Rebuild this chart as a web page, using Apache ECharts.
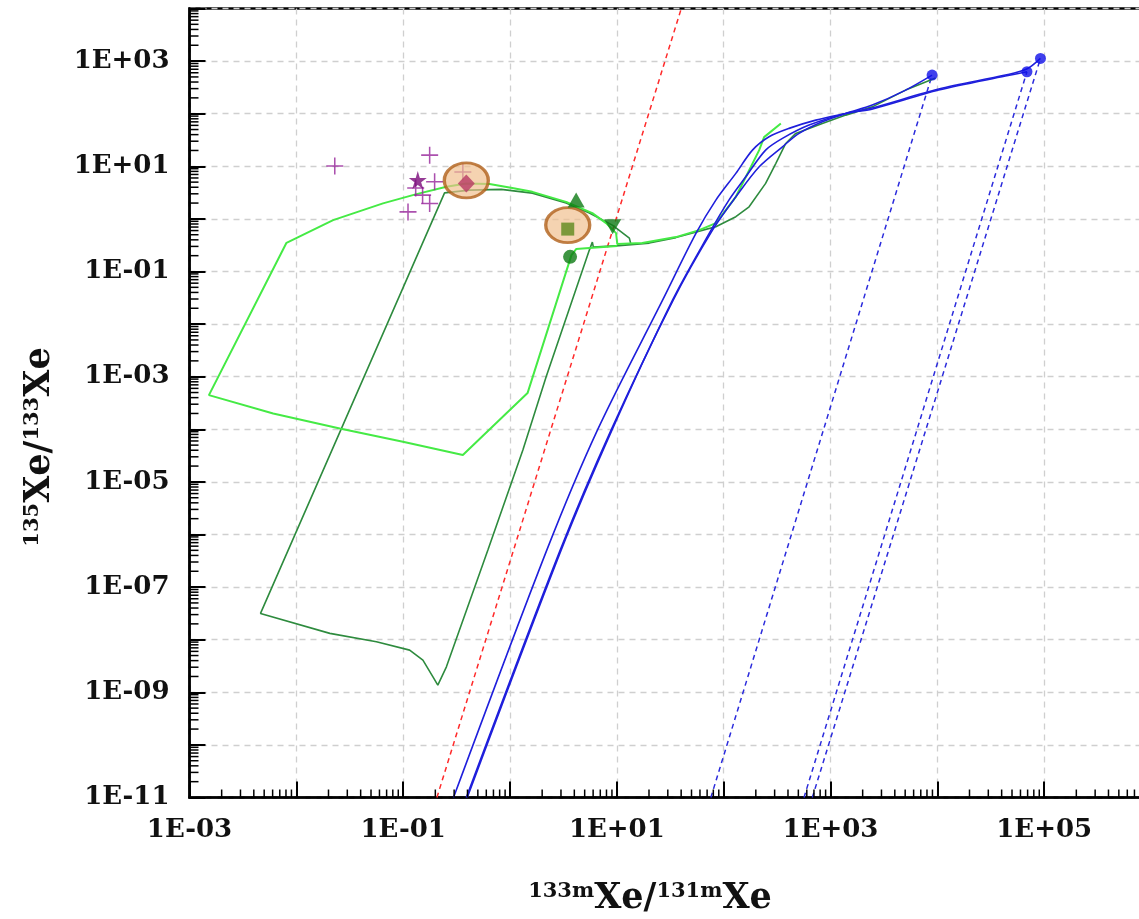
<!DOCTYPE html>
<html>
<head>
<meta charset="utf-8">
<script src="https://cdn.jsdelivr.net/npm/echarts@6/dist/echarts.min.js"></script>
<style>html,body{margin:0;padding:0;background:#fff}#c{width:1139px;height:919px}</style>
</head>
<body>
<div id="c"></div>
<script>
// ---- axis ticks ----
const xDecades = [-3, -2, -1, 0, 1, 2, 3, 4, 5];
const yDecades = [-11, -10, -9, -8, -7, -6, -5, -4, -3, -2, -1, 0, 1, 2, 3];
const minorMultipliers = [2, 3, 4, 5, 6, 7, 8, 9];

// ---- light green curve ----
const lightGreenX = [10.1, 5.53, 4.16, 3.76, 3.30, 1.46, 0.362, 0.0995, 0.0255, 6.07e-3, 1.52e-3, 8.09e-3, 0.0221, 0.0647, 0.133, 0.254, 0.390, 0.643, 1.05, 1.62, 3.35, 5.90, 7.93, 9.84, 10.1, 17.3, 35.7, 59.0, 84.5, 130, 180, 215, 239, 343];
const lightGreenY = [0.304, 0.279, 0.267, 0.205, 0.0893, 4.88e-4, 3.24e-5, 5.78e-5, 1.04e-4, 2.00e-4, 4.47e-4, 0.351, 0.948, 1.97, 2.96, 4.08, 4.73, 4.59, 3.85, 3.27, 2.11, 1.29, 0.832, 0.537, 0.332, 0.347, 0.451, 0.612, 0.832, 2.63, 9.78, 20.3, 35.9, 65.4];

// ---- dark green curve ----
const darkGreenX = [13.6, 13.1, 9.08, 5.53, 3.35, 1.62, 0.828, 0.418, 0.244, 4.62e-3, 0.0206, 0.0562, 0.115, 0.153, 0.190, 0.211, 0.254, 0.621, 1.32, 2.18, 5.53, 5.90, 6.03, 10.5, 20.1, 35.7, 59.0, 84.5, 130, 173, 247, 308, 381, 473, 838, 1390, 2460, 5050, 9620];
const darkGreenY = [0.318, 0.432, 0.762, 1.29, 2.00, 3.09, 3.64, 3.53, 3.13, 3.16e-8, 1.32e-8, 9.12e-9, 6.34e-9, 4.09e-9, 1.97e-9, 1.37e-9, 3.05e-9, 5.05e-7, 4.03e-5, 9.95e-4, 0.255, 0.362, 0.291, 0.311, 0.347, 0.441, 0.586, 0.708, 1.10, 1.70, 4.73, 11.4, 27.2, 42.2, 65.4, 94, 135, 281, 475];

// ---- blue solid curves ----
const blue1X = [0.390, 2.95, 8.83, 33.7, 78.6, 130, 215, 355, 508, 838, 1390, 2460, 5050, 8930];
const blue1Y = [1e-11, 5.05e-7, 9.66e-5, 0.0286, 0.612, 2.63, 9.78, 23.5, 42.2, 70.1, 101, 146, 281, 542];
const blue2X = [0.398, 3.01, 9.0, 33.2, 73.2, 112, 161, 247, 355, 630, 1390, 2440, 10300, 43400, 69000];
const blue2Y = [1e-11, 5.05e-7, 9.66e-5, 0.0286, 0.530, 2.28, 6.31, 20.3, 33.9, 60.7, 101, 122, 281, 519, 627];
const blue3X = [0.296, 2.21, 6.58, 26.8, 55.0, 84.5, 130, 186, 266, 409, 728, 1390, 2440, 10300, 43400, 68600, 92300];
const blue3Y = [1e-11, 5.05e-7, 9.66e-5, 0.0286, 0.530, 2.28, 7.33, 20.3, 36.4, 52.6, 75.5, 101, 128, 294, 542, 705, 1125];

// ---- blue end points and dashed lines ----
const blueDotsX = [8930, 69000, 92300];
const blueDotsY = [542, 627, 1125];
const blueDashStartX = [75.9, 565, 676];
const blueDashStartY = [1e-11, 1e-11, 1e-11];

// ---- red dashed line ----
const redX = [0.207, 40.1];
const redY = [1e-11, 1e4];

// ---- markers ----
const crossX = [0.0229, 0.177, 0.197, 0.131, 0.152, 0.177, 0.111, 0.362];
const crossY = [10.1, 16.3, 5.07, 3.85, 2.83, 1.97, 1.36, 7.76];
const starPt = [0.137, 5.47];
const diamondPt = [0.390, 4.73];
const ellipseX = [0.390, 3.47];
const ellipseY = [5.39, 0.762];
const squarePt = [3.47, 0.640];
const triUpPt = [4.16, 2.28];
const triDownPt = [9.14, 0.708];
const circlePt = [3.65, 0.190];

const zip = (a, b) => a.map((v, i) => [v, b[i]]);
const expLabel = (v) => {
  const e = Math.round(Math.log10(v));
  if (Math.abs(e % 2) !== 1) return '';
  return '1E' + (e < 0 ? '-' : '+') + String(Math.abs(e)).padStart(2, '0');
};
const xMinor = [], yMinor = [];
xDecades.forEach(d => minorMultipliers.forEach(m => xMinor.push([m * Math.pow(10, d), 1e-11])));
yDecades.forEach(d => minorMultipliers.forEach(m => yMinor.push([1e-3, m * Math.pow(10, d)])));

const FONT = '"DejaVu Serif", serif';
const lineSeries = (name, data, color, width, type, smooth) => ({
  name, type: 'line', data, showSymbol: false, symbol: 'none', smooth: smooth || false,
  lineStyle: { color, width, type: type || 'solid' }, silent: true, z: 3, animation: false
});

const chart = echarts.init(document.getElementById('c'), null, { renderer: 'canvas' });
chart.setOption({
  animation: false,
  backgroundColor: '#ffffff',
  grid: { left: 189.5, top: 8.5, width: 961.5, height: 789, show: true, borderColor: '#000', borderWidth: 2.5, containLabel: false, outerBoundsMode: 'none' },
  xAxis: {
    type: 'log', logBase: 10, min: 1e-3, max: 1e6, interval: 1, splitNumber: 9,
    axisLine: { show: true, onZero: false, lineStyle: { color: '#000', width: 2.5 } },
    axisTick: { show: true, inside: true, length: 16, lineStyle: { color: '#000', width: 2 } },
    minorTick: { show: false },
    splitLine: { show: true, lineStyle: { color: '#cfcfcf', width: 1.3, type: [6, 5] } },
    axisLabel: { formatter: expLabel, fontFamily: FONT, fontWeight: 'bold', fontSize: 26, color: '#111', margin: 20, showMinLabel: true, showMaxLabel: true, hideOverlap: false }
  },
  yAxis: {
    type: 'log', logBase: 10, min: 1e-11, max: 1e4, interval: 1, splitNumber: 15,
    axisLine: { show: true, onZero: false, lineStyle: { color: '#000', width: 2.5 } },
    axisTick: { show: true, inside: true, length: 16, lineStyle: { color: '#000', width: 2 } },
    minorTick: { show: false },
    splitLine: { show: true, lineStyle: { color: '#cfcfcf', width: 1.3, type: [6, 5] } },
    axisLabel: { formatter: expLabel, fontFamily: FONT, fontWeight: 'bold', fontSize: 26, color: '#111', margin: 20, showMinLabel: true, showMaxLabel: true, hideOverlap: false }
  },
  graphic: [
    {
      type: 'text', x: 650, y: 899, z: 10,
      style: {
        text: '{s|133m}{b|Xe/}{s|131m}{b|Xe}', textAlign: 'center', textVerticalAlign: 'middle',
        fill: '#111',
        rich: {
          s: { fontFamily: FONT, fontWeight: 'bold', fontSize: 21, verticalAlign: 'top', fill: '#111' },
          b: { fontFamily: FONT, fontWeight: 'bold', fontSize: 35, verticalAlign: 'bottom', fill: '#111' }
        }
      }
    },
    {
      type: 'text', x: 40, y: 447, rotation: Math.PI / 2, z: 10,
      style: {
        text: '{s|135}{b|Xe/}{s|133}{b|Xe}', textAlign: 'center', textVerticalAlign: 'middle',
        fill: '#111',
        rich: {
          s: { fontFamily: FONT, fontWeight: 'bold', fontSize: 21, verticalAlign: 'top', fill: '#111' },
          b: { fontFamily: FONT, fontWeight: 'bold', fontSize: 35, verticalAlign: 'bottom', fill: '#111' }
        }
      }
    }
  ],
  series: [
    {
      type: 'custom', name: 'xMinor', data: xMinor, clip: false, silent: true, z: 5,
      renderItem: (params, api) => {
        const p = api.coord([api.value(0), api.value(1)]);
        return { type: 'line', shape: { x1: p[0], y1: p[1], x2: p[0], y2: p[1] - 8 }, style: { stroke: '#000', lineWidth: 1.5 } };
      }
    },
    {
      type: 'custom', name: 'yMinor', data: yMinor, clip: false, silent: true, z: 5,
      renderItem: (params, api) => {
        const p = api.coord([api.value(0), api.value(1)]);
        return { type: 'line', shape: { x1: p[0], y1: p[1], x2: p[0] + 9, y2: p[1] }, style: { stroke: '#000', lineWidth: 1.5 } };
      }
    },
    lineSeries('red', zip(redX, redY), '#ff2a2a', 1.5, [5, 4]),
    ...blueDotsX.map((x, i) => lineSeries('blueDash' + i, [[blueDashStartX[i], blueDashStartY[i]], [x, blueDotsY[i]]], '#2b2bdc', 1.5, [5, 4])),
    lineSeries('darkGreen', zip(darkGreenX, darkGreenY), '#2e8b3e', 1.6),
    lineSeries('lightGreen', zip(lightGreenX, lightGreenY), '#45ea45', 2),
    lineSeries('blue1', zip(blue1X, blue1Y), '#1f1fdc', 1.6, 'solid', 0.3),
    lineSeries('blue2', zip(blue2X, blue2Y), '#1f1fdc', 1.6, 'solid', 0.3),
    lineSeries('blue3', zip(blue3X, blue3Y), '#1f1fdc', 1.6, 'solid', 0.3),
    {
      type: 'scatter', name: 'blueDots', data: zip(blueDotsX, blueDotsY), symbol: 'circle', symbolSize: 11,
      itemStyle: { color: '#1010e8' }, z: 6, silent: true
    },
    {
      type: 'scatter', name: 'crosses', data: zip(crossX, crossY), symbol: 'path://M9.1,0H10.9V20H9.1ZM0,9.1H20V10.9H0Z', symbolSize: 17,
      itemStyle: { color: '#96249a' }, z: 6, silent: true
    },
    {
      type: 'scatter', name: 'star', data: [starPt], symbol: 'path://M50,0L61,35L98,35L68,57L79,91L50,70L21,91L32,57L2,35L39,35Z', symbolSize: 18,
      itemStyle: { color: '#7b0a7b' }, z: 7, silent: true
    },
    {
      type: 'scatter', name: 'ellipses', data: zip(ellipseX, ellipseY), symbol: 'circle', symbolSize: [44, 35],
      itemStyle: { color: 'rgba(240,190,140,0.85)', borderColor: '#b0601a', borderWidth: 3 }, z: 7, silent: true
    },
    {
      type: 'scatter', name: 'diamond', data: [diamondPt], symbol: 'diamond', symbolSize: [17, 18],
      itemStyle: { color: '#b83a64' }, z: 8, silent: true
    },
    {
      type: 'scatter', name: 'square', data: [squarePt], symbol: 'rect', symbolSize: 13,
      itemStyle: { color: '#5e8a1e' }, z: 8, silent: true
    },
    {
      type: 'scatter', name: 'triUp', data: [triUpPt], symbol: 'triangle', symbolSize: [17, 15],
      itemStyle: { color: '#0e7a14' }, z: 8, silent: true
    },
    {
      type: 'scatter', name: 'triDown', data: [triDownPt], symbol: 'triangle', symbolRotate: 180, symbolSize: [17, 15],
      itemStyle: { color: '#0e7a14' }, z: 8, silent: true
    },
    {
      type: 'scatter', name: 'circle', data: [circlePt], symbol: 'circle', symbolSize: 14,
      itemStyle: { color: '#0e7a14' }, z: 8, silent: true
    }
  ]
});
</script>
</body>
</html>
